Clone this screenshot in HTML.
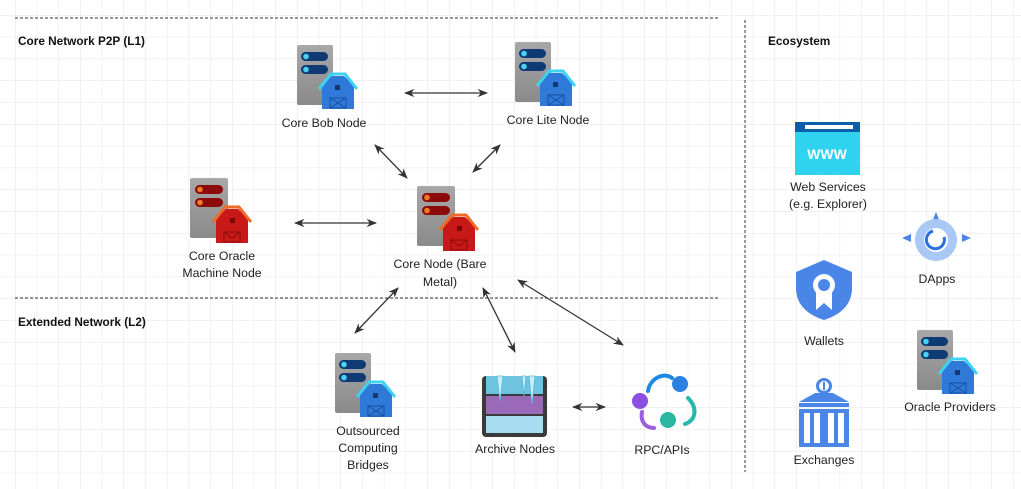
<!DOCTYPE html>
<html><head><meta charset="utf-8"><style>
html,body{margin:0;padding:0;background:#fff}
body{width:1021px;height:489px;overflow:hidden;position:relative;font-family:"Liberation Sans",sans-serif}
svg{position:absolute;left:0;top:0}
text{font-family:"Liberation Sans",sans-serif;font-size:12.3px;fill:#222}
.h{font-weight:bold;font-size:11.8px;fill:#111}
</style></head><body>
<svg width="1021" height="489" viewBox="0 0 1021 489">
<defs>
<pattern id="g" x="15" y="15" width="21.7" height="21.8" patternUnits="userSpaceOnUse">
<path d="M0 0H21.7M0 0V21.8" stroke="#e6e6e6" stroke-width="1" fill="none"/>
</pattern>
<marker id="a" viewBox="0 0 10 10" refX="9" refY="5" markerWidth="8" markerHeight="8" orient="auto-start-reverse">
<path d="M0 1L10 5L0 9L3 5Z" fill="#333"/></marker>
<linearGradient id="sv" x1="0" y1="0" x2="0" y2="1"><stop offset="0" stop-color="#a8a8a8"/><stop offset="1" stop-color="#8a8a8a"/></linearGradient>
<g id="blue">
<rect x="0" y="0" width="36" height="60" rx="2" fill="url(#sv)"/>
<rect x="4" y="7" width="27" height="9" rx="4.5" fill="#0f3a74"/><circle cx="9" cy="11.5" r="2.8" fill="#48d1f0"/>
<rect x="4" y="20" width="27" height="9" rx="4.5" fill="#0f3a74"/><circle cx="9" cy="24.5" r="2.8" fill="#48d1f0"/>
<path d="M25 40 L35 31 L47 31 L57 40 L57 64 L25 64Z" fill="#2f7ad8"/>
<path d="M22 44 L34 29 L48 29 L60 44" stroke="#3fd3f2" stroke-width="3" fill="none"/>
<rect x="38" y="40" width="5" height="5" fill="#0f3a74"/>
<path d="M33 53H49V63H33ZM33 53L49 63M49 53L33 63" stroke="#1b4fa0" stroke-width="1" fill="none"/>
</g>
<g id="red">
<rect x="0" y="0" width="38" height="60" rx="2" fill="url(#sv)"/>
<rect x="5" y="7" width="28" height="9" rx="4.5" fill="#8b0a0a"/><circle cx="10" cy="11.5" r="2.8" fill="#f07a2a"/>
<rect x="5" y="20" width="28" height="9" rx="4.5" fill="#8b0a0a"/><circle cx="10" cy="24.5" r="2.8" fill="#f07a2a"/>
<path d="M26 40 L36 31 L48 31 L58 40 L58 65 L26 65Z" fill="#c81818"/>
<path d="M23 44 L35 29 L49 29 L61 44" stroke="#f06a2a" stroke-width="3" fill="none"/>
<rect x="40" y="40" width="5" height="5" fill="#7a0808"/>
<path d="M34 54H50V64H34ZM34 54L42 60L50 54" stroke="#8a0c0c" stroke-width="1" fill="none"/>
</g>
</defs>
<rect width="1021" height="489" fill="url(#g)"/>
<g stroke="#333" stroke-width="1" stroke-dasharray="3,2">
<line x1="15" y1="18" x2="720" y2="18"/>
<line x1="15" y1="298" x2="720" y2="298"/>
<line x1="745" y1="20" x2="745" y2="472"/>
</g>
<text class="h" x="18" y="45">Core Network P2P (L1)</text>
<text class="h" x="18" y="326">Extended Network (L2)</text>
<text class="h" x="768" y="45">Ecosystem</text>

<g stroke="#333" stroke-width="1.3" marker-start="url(#a)" marker-end="url(#a)" fill="none">
<line x1="405" y1="93" x2="487" y2="93"/>
<line x1="375" y1="145" x2="407" y2="178"/>
<line x1="500" y1="145" x2="473" y2="172"/>
<line x1="295" y1="223" x2="376" y2="223"/>
<line x1="398" y1="288" x2="355" y2="333"/>
<line x1="483" y1="288" x2="515" y2="352"/>
<line x1="518" y1="280" x2="623" y2="345"/>
<line x1="573" y1="407" x2="605" y2="407"/>
</g>

<use href="#blue" x="297" y="45"/>
<use href="#blue" x="515" y="42"/>
<use href="#red" x="190" y="178"/>
<use href="#red" x="417" y="186"/>
<use href="#blue" x="335" y="353"/>
<use href="#blue" x="917" y="330"/>

<g text-anchor="middle">
<text x="324" y="127">Core Bob Node</text>
<text x="548" y="124">Core Lite Node</text>
<text x="222" y="260">Core Oracle</text><text x="222" y="277">Machine Node</text>
<text x="440" y="268">Core Node (Bare</text><text x="440" y="286">Metal)</text>
<text x="368" y="435">Outsourced</text><text x="368" y="452">Computing</text><text x="368" y="469">Bridges</text>
<text x="515" y="453">Archive Nodes</text>
<text x="662" y="454">RPC/APIs</text>
<text x="828" y="191">Web Services</text><text x="828" y="208">(e.g. Explorer)</text>
<text x="937" y="283">DApps</text>
<text x="824" y="345">Wallets</text>
<text x="824" y="464">Exchanges</text>
<text x="950" y="411">Oracle Providers</text>
</g>

<g>
<rect x="482" y="376" width="65" height="61" rx="4" fill="#3a3a3a"/>
<rect x="486" y="376" width="57" height="18" fill="#6ec3e0"/>
<rect x="486" y="396" width="57" height="18" fill="#9a6ab8"/>
<rect x="486" y="416" width="57" height="17" fill="#a8dcf0"/>
<path d="M497 376L500 401L503 376Z" fill="#c8f0fa" stroke="#5ab8d8" stroke-width="0.8"/>
<path d="M522 376L524 396L526 376Z" fill="#c8f0fa" stroke="#5ab8d8" stroke-width="0.8"/>
<path d="M529 376L532 404L535 376Z" fill="#c8f0fa" stroke="#5ab8d8" stroke-width="0.8"/>
</g>
<g fill="none" stroke-width="4" stroke-linecap="round">
<path d="M648 391 C650 378 664 372 672 378" stroke="#1e88e5"/>
<path d="M688 398 C698 408 696 420 685 424" stroke="#26b8a8"/>
<path d="M642 412 C640 422 646 428 654 428" stroke="#9a5fe0"/>
</g>
<circle cx="680" cy="384" r="8" fill="#2a7fe0"/>
<circle cx="640" cy="401" r="8" fill="#8a4fe0"/>
<circle cx="668" cy="420" r="8" fill="#2ab8a0"/>
<rect x="795" y="122" width="65" height="53" fill="#2fd3f0"/>
<rect x="795" y="122" width="65" height="10" fill="#0a5fa8"/>
<rect x="805" y="125" width="48" height="4" fill="#fff"/>
<text x="827" y="159" text-anchor="middle" style="font-size:14px;font-weight:bold;fill:#fff">WWW</text>
<path d="M936 212L932 222H940Z" fill="#4a86e8"/>
<path d="M902 238L911 234V242Z" fill="#4a86e8"/>
<path d="M971 238L962 234V242Z" fill="#4a86e8"/>
<circle cx="936" cy="240" r="21" fill="#a9c8f5"/>
<circle cx="936" cy="240" r="12" fill="#fff"/>
<path d="M944 237 A9 9 0 1 1 933 231" stroke="#2a6ee0" stroke-width="3" fill="none"/>
<path d="M824 260L852 272V288C852 305 840 315 824 320C808 315 796 305 796 288V272Z" fill="#4a86e8"/>
<circle cx="824" cy="285" r="11" fill="#fff"/><circle cx="824" cy="285" r="6" fill="#4a86e8"/>
<path d="M816 292V310L824 303L832 310V292Z" fill="#fff"/>
<circle cx="824" cy="386" r="8" fill="#4a86e8"/><circle cx="824" cy="386" r="5" fill="#fff"/><rect x="823" y="382" width="2" height="8" fill="#4a86e8"/>
<path d="M799 402 L815 393 H833 L849 402Z" fill="#4a86e8"/>
<rect x="799" y="403" width="50" height="4" fill="#4a86e8"/>
<rect x="799" y="409" width="50" height="38" fill="#4a86e8"/>
<g fill="#fff"><rect x="804" y="413" width="6" height="30"/><rect x="814" y="413" width="6" height="30"/><rect x="828" y="413" width="6" height="30"/><rect x="838" y="413" width="6" height="30"/></g>
</svg>
</body></html>
